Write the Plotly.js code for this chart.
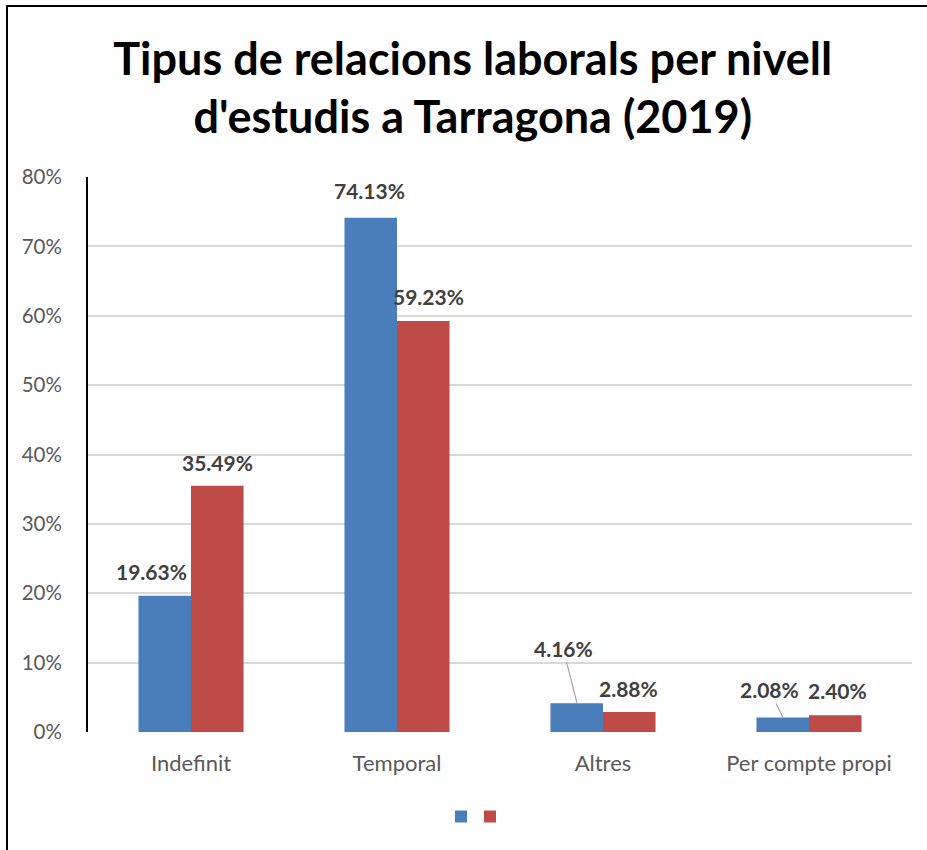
<!DOCTYPE html>
<html>
<head>
<meta charset="utf-8">
<script src="https://cdn.plot.ly/plotly-3.0.1.min.js"></script>
<style>
html,body{margin:0;padding:0;background:#fff;}
#wrap{position:relative;width:927px;height:850px;}
#chart{position:absolute;left:0;top:0;width:927px;height:850px;}
#frame{position:absolute;left:6px;top:5px;width:921px;height:845px;border-left:2px solid #000;border-top:2px solid #000;pointer-events:none;box-sizing:border-box;}
</style>
</head>
<body>
<div id="wrap"><div id="chart"></div><div id="frame"></div></div>
<script>
const categories = ['Indefinit', 'Temporal', 'Altres', 'Per compte propi'];
const seriesA = [19.63, 74.13, 4.16, 2.08];
const seriesB = [35.49, 59.23, 2.88, 2.40];
const yTicks = [0, 10, 20, 30, 40, 50, 60, 70, 80];

const FONT = 'Lato, "Open Sans", sans-serif';
const blue = '#4a7ebb', red = '#be4b48';

const traces = [
  {type: 'bar', x: categories, y: seriesA, name: '', marker: {color: blue}, hoverinfo: 'y', legend: 'legend'},
  {type: 'bar', x: categories, y: seriesB, name: '', marker: {color: red}, hoverinfo: 'y', legend: 'legend2'}
];

// label placement (pixels): [xshift, yshift] — leader lines for small bars
const annA = [[-14, 24], [-2, 27], null, null];
const annB = [[0, 23], [5, 25], [-1, 24], [2, 25]];
const leaderA = {2: [-14, -55], 3: [-14, -28]};
const LBL = {family: FONT, size: 21, color: '#404040', weight: 'bold'};

const annotations = [];
categories.forEach((c, i) => {
  if (annA[i]) {
    annotations.push({x: c, y: seriesA[i], xref: 'x', yref: 'y', xshift: -26 + annA[i][0], yshift: annA[i][1],
      text: seriesA[i].toFixed(2) + '%', showarrow: false, font: LBL});
  } else {
    const l = leaderA[i];
    annotations.push({x: c, y: seriesA[i], xref: 'x', yref: 'y', xshift: -26,
      text: seriesA[i].toFixed(2) + '%', showarrow: true, arrowhead: 0, arrowwidth: 1.2, arrowcolor: '#a6a6a6',
      ax: l[0], ay: l[1], standoff: 0, startstandoff: 0, font: LBL});
  }
  annotations.push({x: c, y: seriesB[i], xref: 'x', yref: 'y', xshift: 26 + annB[i][0], yshift: annB[i][1],
    text: seriesB[i].toFixed(2) + '%', showarrow: false, font: LBL});
});

const legBase = {orientation: 'h', xanchor: 'left', y: -0.153, yanchor: 'middle',
  font: {family: FONT, size: 14}, bgcolor: 'rgba(0,0,0,0)'};

const layout = {
  width: 927, height: 850,
  margin: {l: 88, r: 15, t: 177, b: 118},
  paper_bgcolor: 'rgba(0,0,0,0)', plot_bgcolor: 'rgba(0,0,0,0)',
  title: {text: 'Tipus de relacions laborals per nivell<br>d\'estudis a Tarragona (2019)',
    font: {family: FONT, size: 45, color: '#000', weight: 'bold'},
    x: 0.51, xanchor: 'center', y: 0.912, yanchor: 'top'},
  barmode: 'group', bargap: 0.49, bargroupgap: 0,
  xaxis: {type: 'category', showgrid: false, showline: false, ticks: '',
    tickfont: {family: FONT, size: 22, color: '#595959'}, ticklabelstandoff: 16},
  yaxis: {range: [0, 80], tickvals: yTicks, ticktext: yTicks.map(v => v + '%'),
    showgrid: true, gridcolor: '#d9d9d9', gridwidth: 1.5, zeroline: false,
    showline: true, linecolor: '#000', linewidth: 2, ticks: '',
    tickfont: {family: FONT, size: 20.5, color: '#595959'}, ticklabelstandoff: 20},
  showlegend: true,
  legend: Object.assign({}, legBase, {x: (461 - 88 - 20) / 824}),
  legend2: Object.assign({}, legBase, {x: (490 - 88 - 20) / 824}),
  annotations: annotations
};

Plotly.newPlot('chart', traces, layout, {displayModeBar: false});
</script>
</body>
</html>
